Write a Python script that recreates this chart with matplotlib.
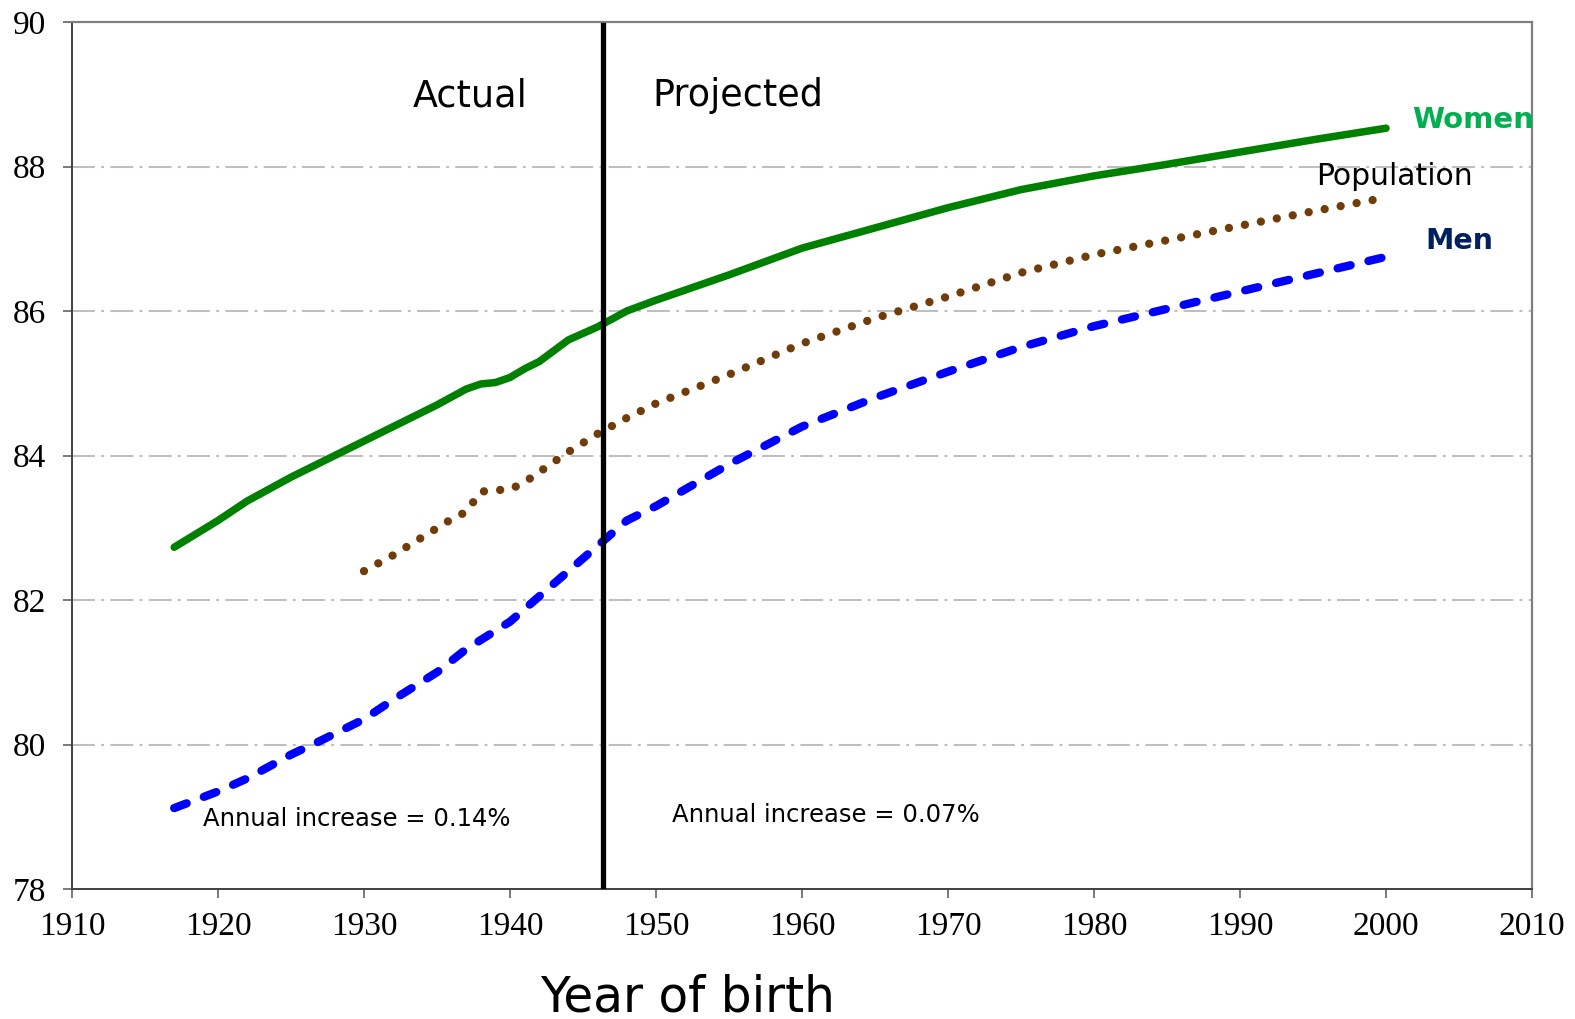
import matplotlib
matplotlib.use("Agg")
import matplotlib.pyplot as plt

# ---- data ----
women_years = [1917, 1920, 1922, 1925, 1930, 1935, 1937, 1938, 1939, 1940, 1941, 1942,
               1943, 1944, 1946, 1948, 1950, 1955, 1960, 1965, 1970, 1975, 1980, 1985,
               1990, 1995, 2000]
women_vals = [82.73, 83.1, 83.37, 83.7, 84.2, 84.7, 84.92, 84.99, 85.01, 85.08, 85.2, 85.3,
              85.45, 85.6, 85.78, 86.0, 86.15, 86.5, 86.87, 87.15, 87.43, 87.68, 87.87, 88.03,
              88.2, 88.37, 88.53]

pop_years = [1930, 1932, 1934, 1936, 1937, 1938, 1939, 1940, 1941, 1942, 1944, 1946, 1948,
             1950, 1955, 1960, 1965, 1970, 1975, 1980, 1985, 1990, 1995, 2000]
pop_vals = [82.4, 82.62, 82.87, 83.12, 83.22, 83.5, 83.52, 83.53, 83.63, 83.77, 84.05, 84.3, 84.52,
            84.72, 85.12, 85.55, 85.9, 86.2, 86.53, 86.78, 86.98, 87.18, 87.38, 87.57]

men_years = [1917, 1920, 1922, 1925, 1927, 1930, 1932, 1935, 1937, 1940, 1942, 1944, 1946,
             1948, 1950, 1955, 1960, 1965, 1970, 1975, 1980, 1985, 1990, 1995, 2000]
men_vals = [79.12, 79.35, 79.53, 79.86, 80.05, 80.35, 80.62, 81.0, 81.32, 81.7, 82.05, 82.4, 82.75,
            83.1, 83.3, 83.88, 84.4, 84.8, 85.16, 85.5, 85.79, 86.03, 86.27, 86.51, 86.75]

divider_year = 1946.4
x_ticks = list(range(1910, 2011, 10))
y_ticks = [78, 80, 82, 84, 86, 88, 90]
grid_levels = [80, 82, 84, 86, 88]

# ---- figure ----
fig = plt.figure(figsize=(15.75, 10.19), dpi=100)
ax = fig.add_axes([72/1575, 1 - 889/1019, 1460/1575, 867/1019])
ax.set_xlim(1910, 2010)
ax.set_ylim(78, 90)

for g in grid_levels:
    ax.axhline(g, color='#BFBFBF', lw=1.5, linestyle=(0, (11, 3, 1.4, 3)), zorder=1)

ax.plot(women_years, women_vals, color='#008000', lw=5.4, solid_capstyle='round',
        solid_joinstyle='round', zorder=3)
ax.plot(pop_years, pop_vals, color='#6F3C0A', lw=6, linestyle=(0, (0.001, 1.95)),
        dash_capstyle='round', zorder=3)
ax.plot(men_years, men_vals, color='#0000FF', lw=6, linestyle=(0, (1.6, 2.2)),
        dash_capstyle='round', zorder=3)

ax.axvline(divider_year, color='black', lw=3.8, ymax=0.996, zorder=4)

ax.set_xticks(x_ticks)
ax.set_yticks(y_ticks)
ax.set_xticklabels([str(v) for v in x_ticks], family='Liberation Serif', fontsize=24)
ax.set_yticklabels([str(v) for v in y_ticks], family='Liberation Serif', fontsize=24)
ax.tick_params(axis='x', direction='out', length=6.5, width=1.1, color='#555555', pad=9.5)
ax.tick_params(axis='y', direction='out', length=6.5, width=1.1, color='#555555', pad=12)

for s in ['left', 'bottom']:
    ax.spines[s].set_color('#404040')
    ax.spines[s].set_linewidth(1.4)
for s in ['top', 'right']:
    ax.spines[s].set_color('#7F7F7F')
    ax.spines[s].set_linewidth(1.6)

ax.text(1937.3, 88.98, 'Actual', fontsize=26.3, ha='center', va='center')
ax.text(1955.6, 88.98, 'Projected', fontsize=26.3, ha='center', va='center')
ax.text(2001.8, 88.65, 'Women', fontsize=21, fontweight='bold', color='#00B050',
        ha='left', va='center', clip_on=False)
ax.text(2000.6, 87.86, 'Population', fontsize=21.5, ha='center', va='center')
ax.text(2002.7, 86.97, 'Men', fontsize=20.5, fontweight='bold', color='#002060',
        ha='left', va='center')
ax.text(1919.0, 78.97, 'Annual increase = 0.14%', fontsize=17.5, ha='left', va='center')
ax.text(1951.1, 79.02, 'Annual increase = 0.07%', fontsize=17.5, ha='left', va='center')

fig.text(687/1575, 1 - 997/1019, 'Year of birth', fontsize=35, ha='center', va='center')

fig.savefig('out.png', dpi=100, facecolor='white')
